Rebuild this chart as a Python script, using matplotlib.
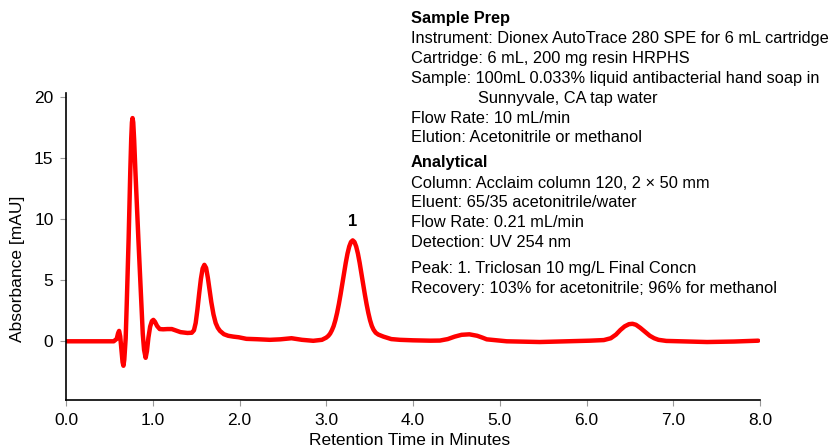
import matplotlib
matplotlib.use("Agg")
import matplotlib.pyplot as plt

plt.rcParams['font.family'] = ['Liberation Sans', 'DejaVu Sans']

# retention time (min) and absorbance (mAU)
time = [0.0, 0.30, 0.55, 0.585, 0.600, 0.612, 0.625, 0.640, 0.652, 0.662, 0.672, 0.688,
        0.700, 0.722, 0.741, 0.752, 0.760, 0.767, 0.775, 0.786, 0.800, 0.817, 0.834,
        0.852, 0.869, 0.885, 0.900, 0.918, 0.933, 0.950, 0.970, 0.990, 1.007, 1.025,
        1.050, 1.080, 1.120, 1.170, 1.220, 1.260, 1.320, 1.400, 1.450, 1.475, 1.495,
        1.515, 1.535, 1.555, 1.575, 1.595, 1.615, 1.635, 1.655, 1.675, 1.700, 1.725,
        1.750, 1.775, 1.820, 1.870, 1.930, 1.990, 2.080, 2.200, 2.350, 2.470, 2.600,
        2.720, 2.850, 2.950, 3.000, 3.025, 3.045, 3.065, 3.085, 3.105, 3.125, 3.145,
        3.165, 3.185, 3.205, 3.225, 3.245, 3.265, 3.285, 3.305, 3.325, 3.345, 3.365,
        3.385, 3.405, 3.425, 3.445, 3.465, 3.485, 3.505, 3.525, 3.545, 3.570, 3.600,
        3.660, 3.750, 3.850, 4.000, 4.200, 4.310, 4.400, 4.480, 4.560, 4.650, 4.740,
        4.800, 4.850, 5.080, 5.460, 5.800, 6.040, 6.200, 6.280, 6.340, 6.390, 6.440,
        6.490, 6.530, 6.570, 6.620, 6.680, 6.730, 6.780, 6.830, 6.920, 7.080, 7.390,
        7.700, 7.980]
absorbance = [0.0, 0.0, 0.0, 0.2, 0.65, 0.85, 0.4, -0.8, -1.7, -2.0, -1.5, 0.25,
              3.0, 8.4, 13.9, 16.6, 17.9, 18.25, 17.9, 16.4, 13.9, 11.1, 8.4,
              5.6, 3.0, 0.6, -0.7, -1.35, -0.8, 0.3, 1.2, 1.65, 1.75, 1.6,
              1.25, 1.0, 0.98, 1.0, 1.0, 0.9, 0.75, 0.68, 0.7, 0.9, 1.5,
              2.6, 3.9, 5.1, 5.95, 6.25, 6.0, 5.2, 4.2, 3.2, 2.2, 1.5,
              1.1, 0.85, 0.58, 0.45, 0.38, 0.33, 0.2, 0.17, 0.12, 0.16, 0.25,
              0.12, 0.04, 0.12, 0.3, 0.45, 0.63, 0.9, 1.24, 1.72, 2.32, 3.03,
              3.83, 4.69, 5.58, 6.42, 7.17, 7.75, 8.12, 8.25, 8.12, 7.75, 7.17,
              6.42, 5.58, 4.69, 3.83, 3.03, 2.32, 1.72, 1.26, 0.95, 0.7, 0.55,
              0.38, 0.18, 0.12, 0.08, 0.05, 0.06, 0.18, 0.38, 0.53, 0.57, 0.45,
              0.3, 0.16, 0.0, -0.06, 0.0, 0.05, 0.1, 0.25, 0.55, 0.92, 1.22,
              1.4, 1.43, 1.35, 1.1, 0.75, 0.45, 0.25, 0.12, 0.03, 0.0, -0.06,
              -0.02, 0.05]

peak_label = "1"
peak_time = 3.305
peak_height = 8.25

xticks = [0, 1, 2, 3, 4, 5, 6, 7, 8]
yticks = [0, 5, 10, 15, 20]

sample_prep = ["Instrument: Dionex AutoTrace 280 SPE for 6 mL cartridge",
               "Cartridge: 6 mL, 200 mg resin HRPHS",
               "Sample: 100mL 0.033% liquid antibacterial hand soap in"]
sample_cont = "Sunnyvale, CA tap water"
sample_prep2 = ["Flow Rate: 10 mL/min",
                "Elution: Acetonitrile or methanol"]
analytical = ["Column: Acclaim column 120, 2 \u00d7 50 mm",
              "Eluent: 65/35 acetonitrile/water",
              "Flow Rate: 0.21 mL/min",
              "Detection: UV 254 nm"]
peaks_info = ["Peak: 1. Triclosan 10 mg/L Final Concn",
              "Recovery: 103% for acetonitrile; 96% for methanol"]

W, H = 831, 448
fig = plt.figure(figsize=(W / 100, H / 100), dpi=100)
ax = fig.add_axes([66 / W, 48 / H, (760 - 66) / W, (400 - 93) / H])

ax.plot(time, absorbance, color='#ff0000', lw=3.2, solid_capstyle='round', solid_joinstyle='round')
ax.text(peak_time, peak_height + 0.9, peak_label, ha='center', va='bottom',
        fontsize=12, fontweight='bold')

ax.set_xlim(0, 8)
ax.set_ylim(-4.8, 20.3)
ax.set_xticks(xticks)
ax.set_xticklabels([f"{v:.1f}" for v in xticks])
ax.set_yticks(yticks)
ax.spines['top'].set_visible(False)
ax.spines['right'].set_visible(False)
ax.spines['left'].set_linewidth(1.2)
ax.spines['bottom'].set_linewidth(1.2)
ax.tick_params(direction='out', length=4, width=0.8, color='#999999',
               labelsize=12.5, pad=5)

fig.text(18 / W, 1 - 269 / H, "Absorbance [mAU]", rotation=90, ha='center', va='center', fontsize=12.5)
fig.text(410 / W, 1 - 440 / H, "Retention Time in Minutes", ha='center', va='center', fontsize=12.5)

def put(y, s, x=411, bold=False):
    fig.text(x / W, 1 - y / H, s, ha='left', va='center', fontsize=11.8,
             fontweight='bold' if bold else 'normal')

put(19, "Sample Prep", bold=True)
y = 39
for s in sample_prep:
    put(y, s)
    y += 19.8
put(y, sample_cont, x=478)
y += 19.8
for s in sample_prep2:
    put(y, s)
    y += 19.8
put(162, "Analytical", bold=True)
y = 183
for s in analytical:
    put(y, s)
    y += 19.7
put(268, peaks_info[0])
put(288, peaks_info[1])

fig.savefig("out.png", dpi=100)
